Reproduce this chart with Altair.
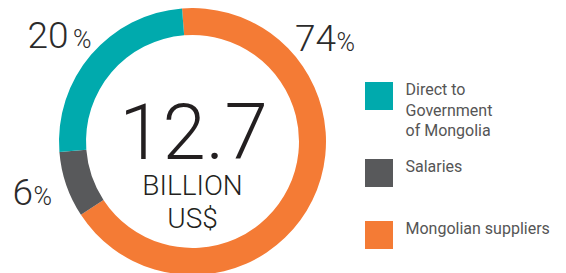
import math
import altair as alt
import pandas as pd

# ---- data ----
categories = ["Mongolian suppliers", "Salaries", "Direct to Government of Mongolia"]
label_pcts = [74, 6, 20]            # printed percentages
arc_shares = [67, 8, 25]            # angular shares as drawn in the ring
colors = ["#F47B35", "#58595B", "#00AAAD"]
legend_texts = ["Direct to\nGovernment\nof Mongolia", "Salaries", "Mongolian suppliers"]
total_value = "12.7"
total_unit = ["BILLION", "US$"]

df = pd.DataFrame({
    "category": categories,
    "share": arc_shares,
    "order": list(range(len(categories))),
})

start = 2 * math.pi - math.radians(4.5)
CX, CY = 184.5, 130.5

ring = alt.Chart(df).mark_arc(innerRadius=106.5, outerRadius=133.5).encode(
    theta=alt.Theta("share:Q", stack=True, scale=alt.Scale(range=[start, start + 2 * math.pi])),
    color=alt.Color("category:N", scale=alt.Scale(domain=categories, range=colors), legend=None),
    order=alt.Order("order:Q"),
    x=alt.value(CX),
    y=alt.value(CY),
)


def text_layer(txt, x, y, size, align="center", weight=300, color="#231F20", **kw):
    return alt.Chart(pd.DataFrame({"t": [txt]})).mark_text(
        font="Roboto", fontSize=size, fontWeight=weight, align=align,
        baseline="alphabetic", color=color, **kw
    ).encode(text="t:N", x=alt.value(x), y=alt.value(y))


layers = [ring]
# centre text
layers.append(text_layer(total_value, 185.5, 148, 78))
layers.append(text_layer(total_unit[0], 184.5, 184, 28))
layers.append(text_layer(total_unit[1], 184.5, 217, 28))

# percentage labels: (index, number anchor x, % anchor x, baseline)
pct_pos = {0: (328, 328.5, 40), 2: (60.5, 65, 37), 1: (25, 25.5, 194)}
for i, (nx, px, by) in pct_pos.items():
    layers.append(text_layer(str(label_pcts[i]), nx, by, 37, align="right", color="#2B2B2B"))
    layers.append(text_layer("%", px, by, 25, align="left", color="#2B2B2B"))

# legend
legend_order = [2, 1, 0]
legend_y = [85, 162, 224]
for k, i in enumerate(legend_order):
    yc = legend_y[k]
    layers.append(
        alt.Chart(pd.DataFrame({"c": [categories[i]]})).mark_square(size=784, opacity=1).encode(
            x=alt.value(371), y=alt.value(yc),
            color=alt.Color("c:N", scale=alt.Scale(domain=categories, range=colors), legend=None),
        )
    )
    layers.append(text_layer(legend_texts[k], 397.5, yc - 1, 16, align="left", weight=400,
                             color="#555555", lineBreak="\n", lineHeight=20.5))

chart = alt.layer(*layers).properties(
    width=550, height=265, padding=0
).configure_view(stroke=None)

chart.save("out.html", embed_options={"renderer": "svg", "actions": False})
